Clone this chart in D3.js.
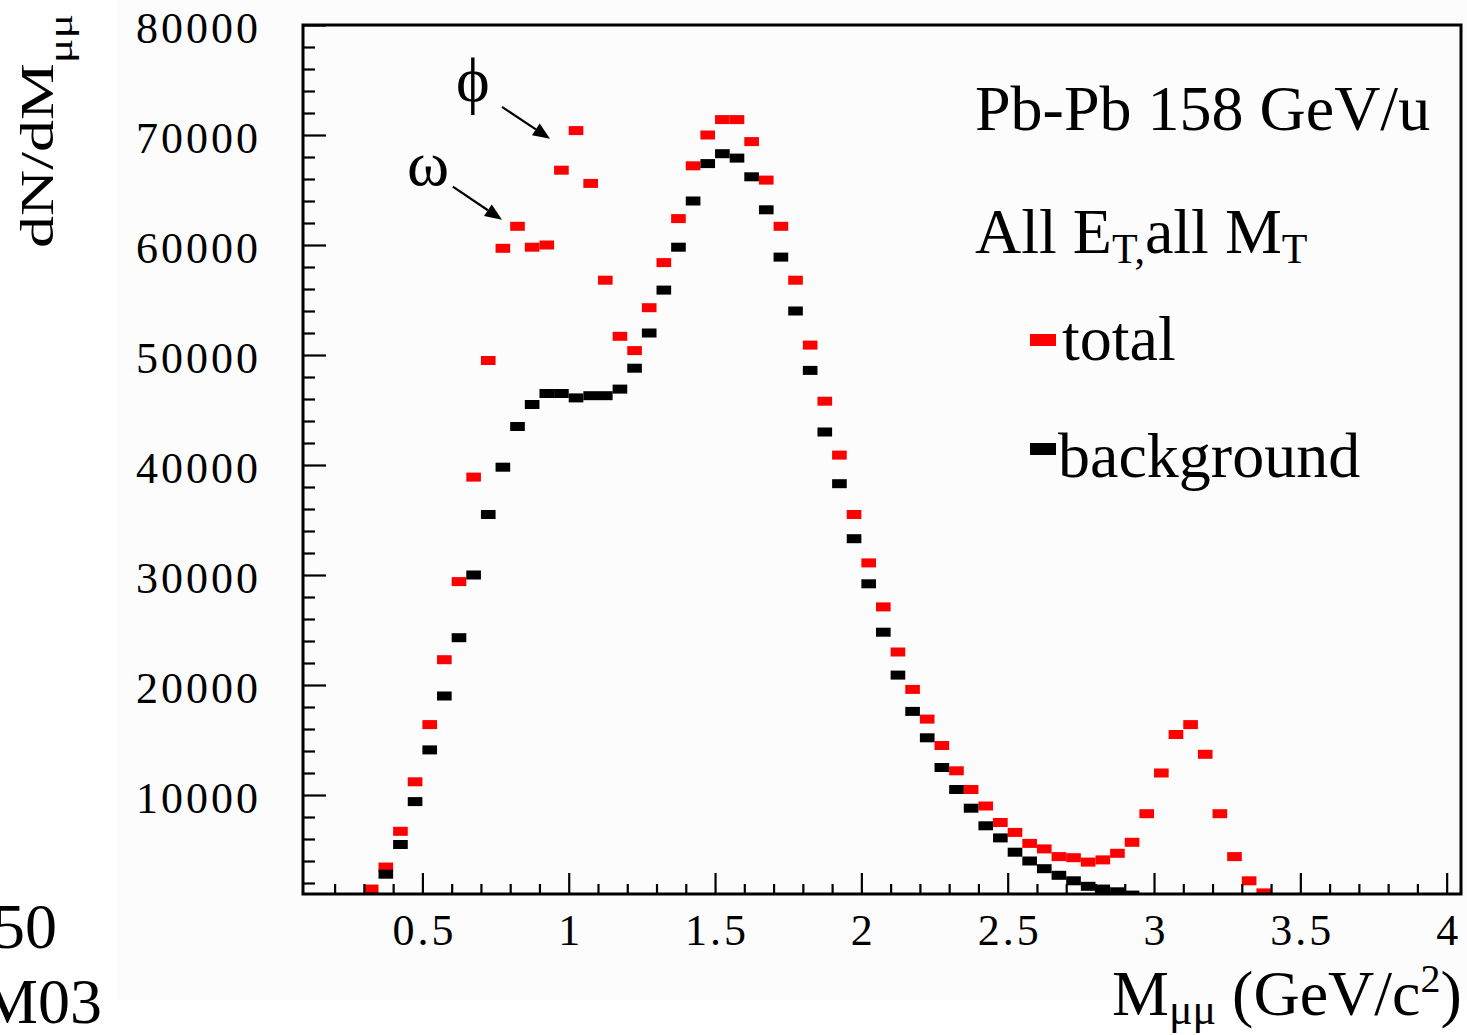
<!DOCTYPE html>
<html>
<head>
<meta charset="utf-8">
<script src="https://cdn.jsdelivr.net/npm/d3@7"></script>
<style>
  html, body { margin: 0; padding: 0; background: #ffffff; }
  svg { display: block; }
  text { font-family: "Liberation Serif", "Times New Roman", "DejaVu Serif", serif; fill: #000; }
</style>
</head>
<body>
<svg id="chart" width="1467" height="1035"></svg>
<script>
// ---- data (bin centres in GeV/c^2, bin width 0.05) ----
const binCenters = [
  0.325, 0.375, 0.425, 0.475, 0.525, 0.575, 0.625, 0.675, 0.725, 0.775,
  0.825, 0.875, 0.925, 0.975, 1.025, 1.075, 1.125, 1.175, 1.225, 1.275,
  1.325, 1.375, 1.425, 1.475, 1.525, 1.575, 1.625, 1.675, 1.725, 1.775,
  1.825, 1.875, 1.925, 1.975, 2.025, 2.075, 2.125, 2.175, 2.225, 2.275,
  2.325, 2.375, 2.425, 2.475, 2.525, 2.575, 2.625, 2.675, 2.725, 2.775,
  2.825, 2.875, 2.925, 2.975, 3.025, 3.075, 3.125, 3.175, 3.225, 3.275,
  3.325, 3.375
];
const totalValues = [
  1450, 3450, 6700, 11200, 16400, 22300, 29400, 38900, 49500, 59700,
  61700, 59800, 60000, 66800, 70400, 65600, 56800, 51700, 50400, 54300,
  58400, 62400, 67200, 70000, 71400, 71400, 69400, 65900, 61700, 56800,
  50900, 45800, 40900, 35500, 31100, 27100, 23000, 19600, 16900, 14500,
  12200, 10500, 9000, 7500, 6600, 5600, 5100, 4400, 4300, 3900,
  4100, 4700, 5700, 8300, 12000, 15500, 16400, 13700, 8300, 4400,
  2200, 1100
];
const backgroundValues = [
  700, 2800, 5500, 9400, 14100, 19000, 24300, 30000, 35500, 39800,
  43500, 45500, 46500, 46500, 46100, 46300, 46300, 46900, 48800, 52000,
  55900, 59800, 64000, 67400, 68300, 67900, 66200, 63200, 58900, 54000,
  48600, 43000, 38300, 33300, 29200, 24800, 20900, 17600, 15200, 12500,
  10500, 8800, 7200, 6100, 4800, 4000, 3300, 2700, 2200, 1700,
  1450, 1200, 900, null, null, null, null, null, null, null,
  null, null
];
const binWidth = 0.05;

const xMajorTicks = [0.5, 1, 1.5, 2, 2.5, 3, 3.5, 4];
const xTickLabels = ["0.5", "1", "1.5", "2", "2.5", "3", "3.5", "4"];
const xMinorTicks = [0.2, 0.3, 0.4, 0.6, 0.7, 0.8, 0.9, 1.1, 1.2, 1.3, 1.4, 1.6, 1.7, 1.8, 1.9,
  2.1, 2.2, 2.3, 2.4, 2.6, 2.7, 2.8, 2.9, 3.1, 3.2, 3.3, 3.4, 3.6, 3.7, 3.8, 3.9];
const yMajorTicks = [10000, 20000, 30000, 40000, 50000, 60000, 70000, 80000];
const yTickLabels = ["10000", "20000", "30000", "40000", "50000", "60000", "70000", "80000"];
const yMinorTicks = [2000, 4000, 6000, 8000, 12000, 14000, 16000, 18000, 22000, 24000, 26000, 28000,
  32000, 34000, 36000, 38000, 42000, 44000, 46000, 48000, 52000, 54000, 56000, 58000,
  62000, 64000, 66000, 68000, 72000, 74000, 76000, 78000];

const annotations = [
  { label: "ϕ", textAt: [0.615, 73100], tail: [0.772, 72550], tip: [0.936, 69650] },
  { label: "ω", textAt: [0.447, 65450], tail: [0.604, 65300], tip: [0.772, 62300] }
];
const seriesNames = ["total", "background"];
const seriesColors = ["#ff0000", "#000000"];

// ---- layout ----
const svg = d3.select("#chart");
const plot = { left: 303, top: 25, right: 1461, bottom: 894 };

const x = d3.scaleLinear().domain([0.092, 4.049]).range([plot.left, plot.right]);
const y = d3.scaleLinear().domain([1000, 80000]).range([plot.bottom, plot.top]);

// faint paper background of the pasted figure
svg.append("rect").attr("x", 117).attr("y", 0).attr("width", 1350).attr("height", 1000)
  .attr("fill", "#fcfcfc");

svg.append("clipPath").attr("id", "plotClip").append("rect")
  .attr("x", plot.left).attr("y", plot.top)
  .attr("width", plot.right - plot.left).attr("height", plot.bottom - plot.top);

const markerH = 9;
function drawSeries(values, color) {
  const pts = binCenters.map((c, i) => ({ c, v: values[i] })).filter(d => d.v != null);
  svg.append("g").attr("clip-path", "url(#plotClip)")
    .selectAll("rect").data(pts).join("rect")
    .attr("x", d => x(d.c - binWidth / 2))
    .attr("width", d => x(d.c + binWidth / 2) - x(d.c - binWidth / 2))
    .attr("y", d => y(d.v) - markerH / 2)
    .attr("height", markerH)
    .attr("fill", color);
}
drawSeries(totalValues, seriesColors[0]);
drawSeries(backgroundValues, seriesColors[1]);

// ---- axes ----
const tickFont = 44;
const yAxisMajor = d3.axisLeft(y).tickValues(yMajorTicks)
  .tickFormat((d, i) => yTickLabels[i]).tickSizeInner(-23).tickSizeOuter(0).tickPadding(42);
const yAxisMinor = d3.axisLeft(y).tickValues(yMinorTicks)
  .tickFormat("").tickSizeInner(-12).tickSizeOuter(0);
const xAxisMajor = d3.axisBottom(x).tickValues(xMajorTicks)
  .tickFormat((d, i) => xTickLabels[i]).tickSizeInner(-21).tickSizeOuter(0).tickPadding(20);
const xAxisMinor = d3.axisBottom(x).tickValues(xMinorTicks)
  .tickFormat("").tickSizeInner(-10).tickSizeOuter(0);

function styleAxis(g) {
  g.select(".domain").remove();
  g.selectAll(".tick line").attr("stroke", "#000").attr("stroke-width", 2.2);
  g.selectAll(".tick text")
    .attr("font-family", "'Liberation Serif', 'Times New Roman', serif")
    .attr("font-size", tickFont)
    .attr("letter-spacing", "3px")
    .attr("fill", "#111");
}
svg.append("g").attr("transform", `translate(${plot.left},0)`).call(yAxisMinor).call(styleAxis);
svg.append("g").attr("transform", `translate(${plot.left},0)`).call(yAxisMajor).call(styleAxis)
  .selectAll(".tick text").attr("dy", "0.4em");
svg.append("g").attr("transform", `translate(0,${plot.bottom})`).call(xAxisMinor).call(styleAxis);
const xg = svg.append("g").attr("transform", `translate(0,${plot.bottom})`).call(xAxisMajor).call(styleAxis);
xg.selectAll(".tick text").attr("dx", "1.5px");

// frame
svg.append("rect")
  .attr("x", plot.left).attr("y", plot.top)
  .attr("width", plot.right - plot.left).attr("height", plot.bottom - plot.top)
  .attr("fill", "none").attr("stroke", "#000").attr("stroke-width", 3);

// ---- axis titles ----
const yt = svg.append("text")
  .attr("transform", "translate(53,248) rotate(-90) scale(1,0.74)")
  .attr("font-size", 64);
yt.append("tspan").text("dN/dM");
yt.append("tspan").attr("font-size", 46).attr("dy", 26).text("μμ");

const xt = svg.append("text").attr("x", 1112).attr("y", 1015).attr("font-size", 64);
xt.append("tspan").text("M");
xt.append("tspan").attr("font-size", 44).attr("dy", 9).text("μμ");
xt.append("tspan").attr("dy", -9).text(" (GeV/c");
xt.append("tspan").attr("font-size", 40).attr("dy", -23).text("2");
xt.append("tspan").attr("dy", 23).text(")");

// ---- annotations ----
annotations.forEach(a => {
  svg.append("text").attr("x", x(a.textAt[0])).attr("y", y(a.textAt[1]))
    .attr("font-size", 64)
    .attr("font-family", "'Liberation Serif', 'DejaVu Serif', serif")
    .text(a.label);
  const x0 = x(a.tail[0]), y0 = y(a.tail[1]), x1 = x(a.tip[0]), y1 = y(a.tip[1]);
  const ang = Math.atan2(y1 - y0, x1 - x0);
  const headL = 17, headW = 7;
  const bx = x1 - headL * Math.cos(ang), by = y1 - headL * Math.sin(ang);
  svg.append("line").attr("x1", x0).attr("y1", y0).attr("x2", bx).attr("y2", by)
    .attr("stroke", "#000").attr("stroke-width", 2.2);
  const px = -Math.sin(ang) * headW, py = Math.cos(ang) * headW;
  svg.append("path")
    .attr("d", `M${x1},${y1}L${bx + px},${by + py}L${bx - px},${by - py}Z`)
    .attr("fill", "#000");
});

// ---- legend / labels ----
svg.append("text").attr("x", 975).attr("y", 130).attr("font-size", 64).text("Pb-Pb 158 GeV/u");
const l2 = svg.append("text").attr("x", 975).attr("y", 253).attr("font-size", 64);
l2.append("tspan").text("All E");
l2.append("tspan").attr("font-size", 42).attr("dy", 10).text("T,");
l2.append("tspan").attr("dy", -10).text("all M");
l2.append("tspan").attr("font-size", 42).attr("dy", 10).text("T");

const legendRows = [
  { name: seriesNames[0], color: seriesColors[0], base: 360, markTop: 334, textX: 1062 },
  { name: seriesNames[1], color: seriesColors[1], base: 477, markTop: 443, textX: 1058 }
];
legendRows.forEach(r => {
  svg.append("rect").attr("x", 1030).attr("y", r.markTop).attr("width", 26).attr("height", 12)
    .attr("fill", r.color);
  svg.append("text").attr("x", r.textX).attr("y", r.base).attr("font-size", 64).text(r.name);
});

// slide text at bottom-left, cut by the left edge as in the reference
svg.append("text").attr("x", -7).attr("y", 948).attr("font-size", 64).text("50");
svg.append("text").attr("x", -19).attr("y", 1023).attr("font-size", 64).text("M03");
</script>
</body>
</html>
